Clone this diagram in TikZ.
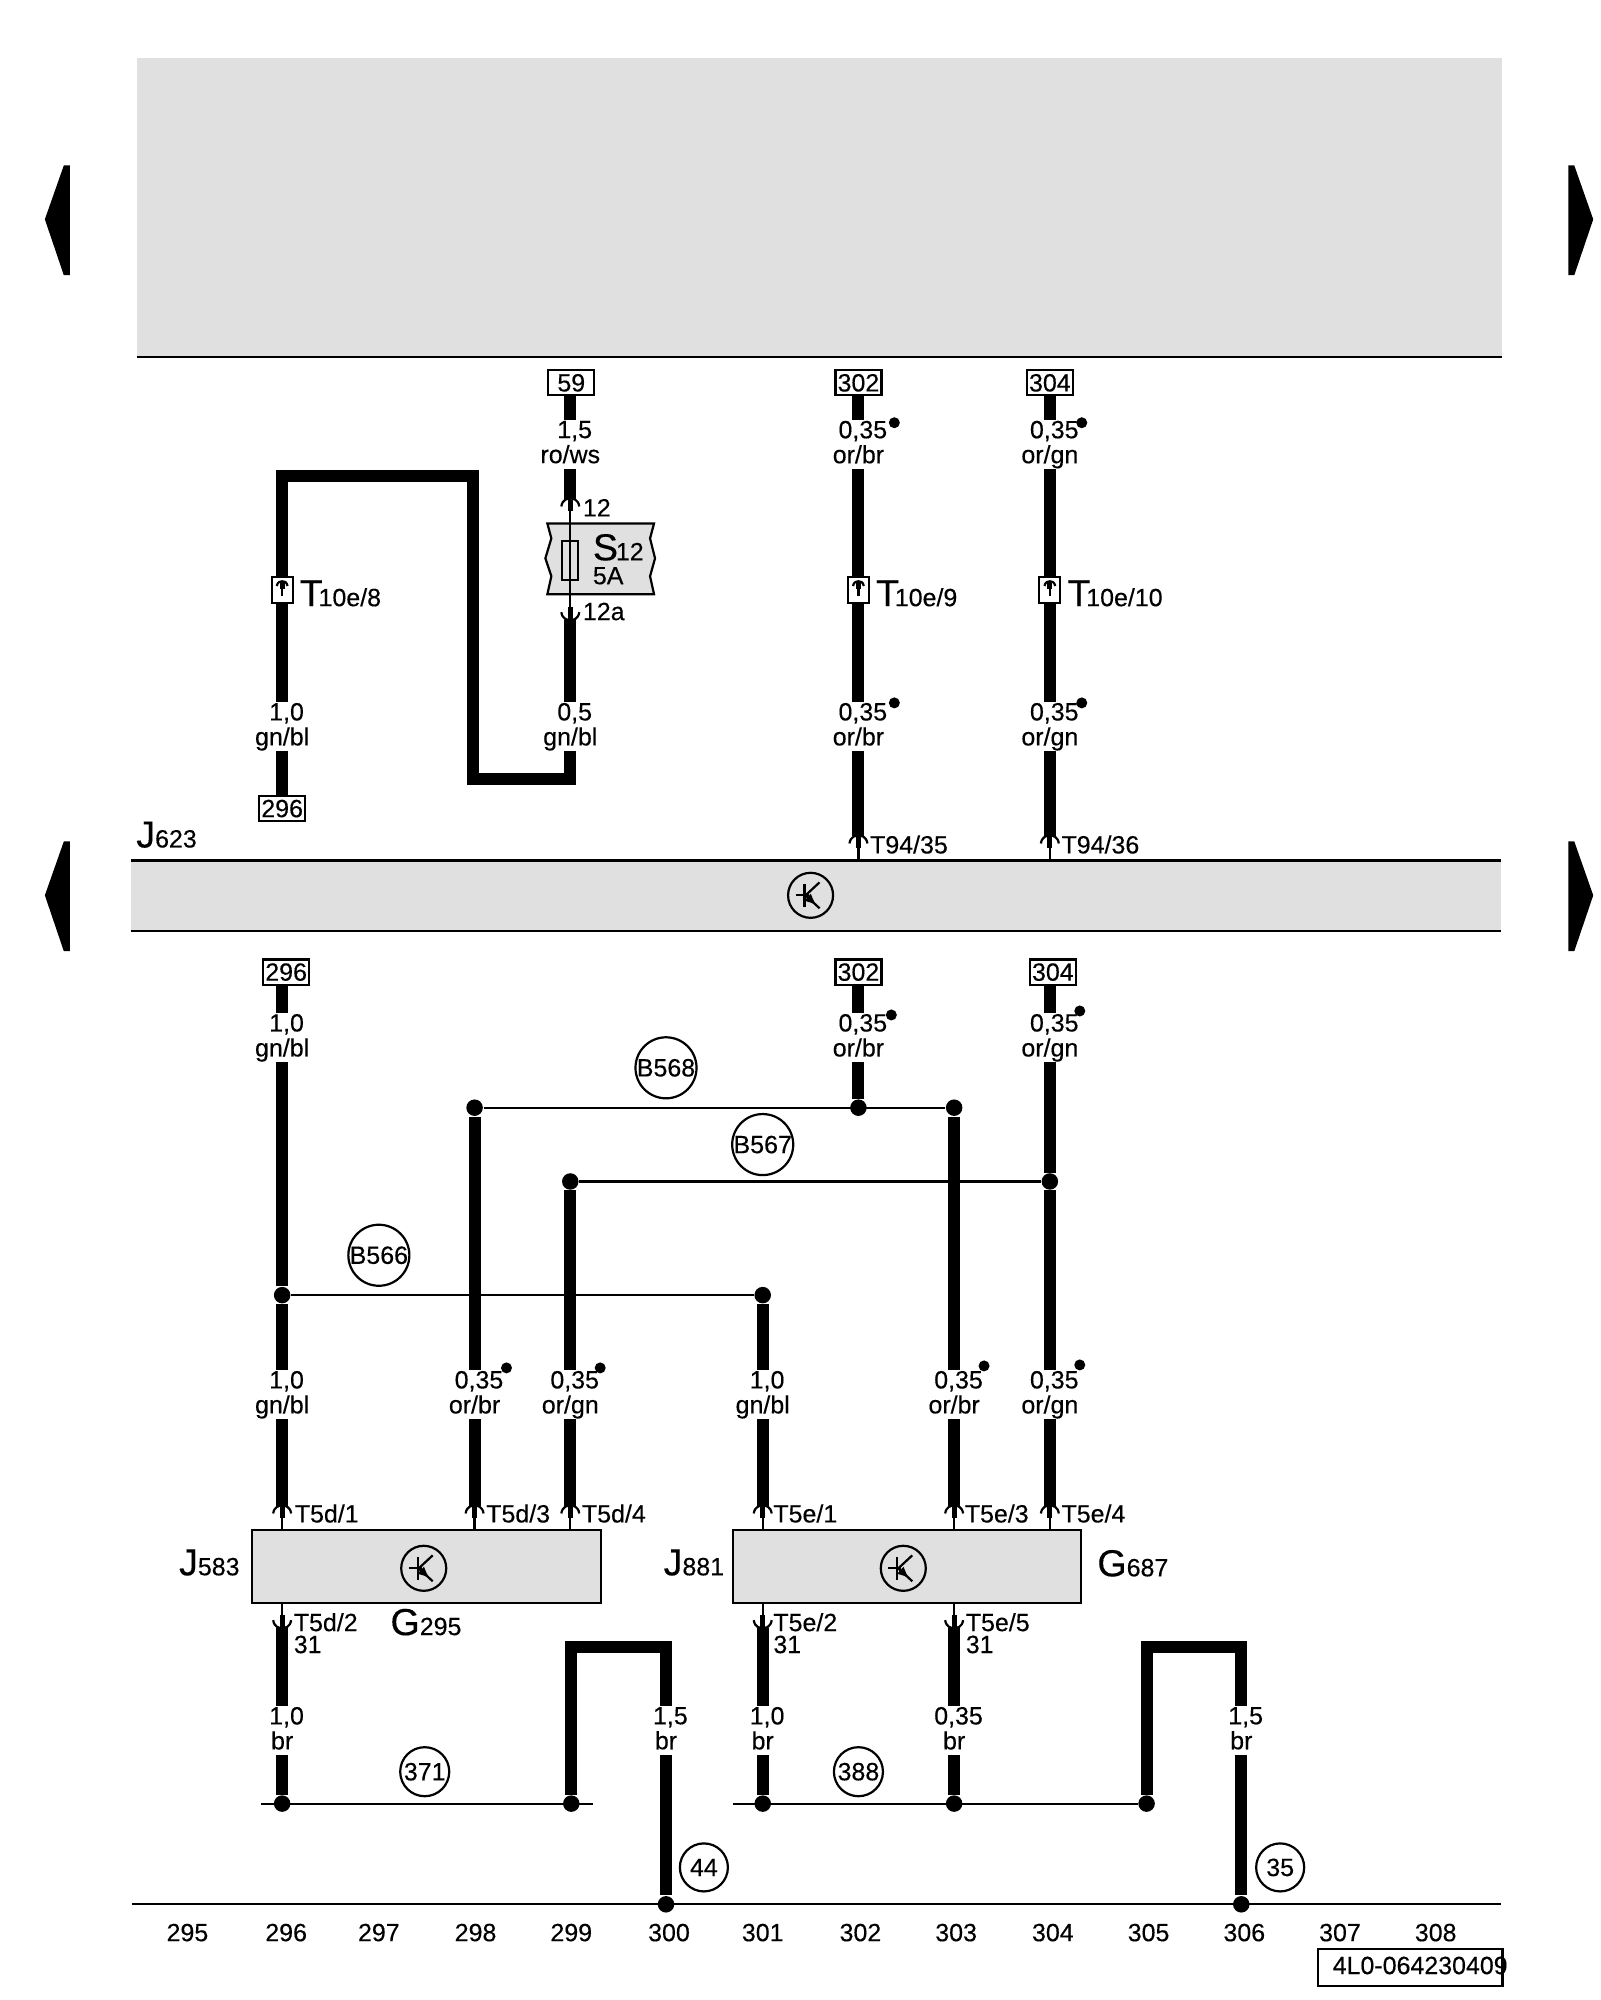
\documentclass[tikz,border=0pt]{standalone}
\usepackage{fontspec}
\setmainfont{Liberation Sans}[FakeBold=0.3]
\usetikzlibrary{arrows.meta}
\definecolor{panel}{HTML}{E0E0E0}
\newcommand{\bigT}[1]{{\fontsize{10.7}{11}\selectfont #1}}
\tikzset{
  small/.style={font=\fontsize{7.1}{7.1}\selectfont},
  wire/.style={line width=0.12cm},
  thinline/.style={line width=0.022cm},
  stem/.style={line width=0.05cm},
  wlab/.style={small, inner sep=0pt, align=center, execute at begin node={\rule{0pt}{7.3pt}}, execute at end node={\rule[-1.5pt]{0pt}{1.5pt}}},
  txt/.style={small, inner sep=0pt, anchor=base west},
  tag/.style={small, draw, thinline, fill=white, inner sep=0pt, minimum width=0.46cm, minimum height=0.25cm},
  conn/.style={draw, thinline, fill=white, inner sep=0pt, minimum width=0.21cm, minimum height=0.26cm},
  unit/.style={draw, thinline, fill=panel, inner sep=0pt, minimum height=0.73cm},
  ring/.style={small, draw, thinline, circle, fill=white, inner sep=0pt},
  spot/.style={circle, fill, inner sep=0pt, minimum size=0.11cm},
  joint/.style={circle, fill, inner sep=0pt, minimum size=0.165cm},
  sens/.style={draw, thinline, circle, inner sep=0pt, minimum size=0.45cm},
  pin/.pic={
    \draw[thinline] (-9,8) .. controls (-8,1) and (-3,0) .. (0,0) .. controls (3,0) and (8,1) .. (9,8);
    \draw[stem] (0,1) -- (0,13);
    \draw[thinline] (0,13) -- (0,25);
  },
  sensor/.pic={
    \draw[thinline] (-15,0) -- (-2,0);
    \draw[thinline] (-6,-11) -- (-6,12);
    \draw[thinline] (-5,0) -- (9,-13);
    \draw[thinline] (-5,0) -- (9,13);
    \draw[thinline, -{Latex[length=0.12cm,width=0.1cm]}] (-4,1) -- (6,10);
  }
}
\begin{document}
\begin{tikzpicture}[x=0.00997cm,y=-0.00997cm]
\useasboundingbox (0,0) rectangle (1604.8,2006);

% page frame
\fill[panel] (137,58) rectangle (1506,358);
\coordinate (TL) at (137,358);
\coordinate (TR) at (1506,358);
\draw[thinline] (TL) -- (TR);
\fill (45,220) -- (64,166) -- (70,166) -- (70,276) -- (64,276) -- cycle;
\fill (45,898) -- (64,844) -- (70,844) -- (70,954) -- (64,954) -- cycle;
\fill (1598,220) -- (1579,166) -- (1573,166) -- (1573,276) -- (1579,276) -- cycle;
\fill (1598,898) -- (1579,844) -- (1573,844) -- (1573,954) -- (1579,954) -- cycle;

% control unit band
\fill[panel] (131,863) rectangle (1505,934);
\coordinate (BL0) at (131,863);
\coordinate (BR0) at (1505,863);
\coordinate (BL1) at (131,934);
\coordinate (BR1) at (1505,934);
\draw[thinline] (BL0) -- (BR0);
\draw[thinline] (BL1) -- (BR1);
\node[sens] (S623) at (813,898) {};
\path (S623) pic {sensor};
\node[txt] (J623) at (136,850) {\bigT{J}623};

% fuse
\draw[thinline, fill=panel] (549,525) -- (553,540) -- (547,560) -- (553,578) -- (549,596) -- (656,596) -- (652,578) -- (657,560) -- (652,540) -- (656,525) -- cycle;
\node[draw, thinline, inner sep=0pt, minimum width=0.16cm, minimum height=0.39cm] (F12) at (572,562) {};
\node[txt] (S12) at (594,562) {\bigT{S}\kern-0.6pt 12};
\node[txt] (A5) at (594,586) {5A};
\node[txt] (N12) at (584,518) {12};
\node[txt] (N12a) at (584,622) {12a};

% upper half
\node[tag] (B59) at (573,384) {59};
\node[tag] (B302) at (861,384) {302};
\node[tag] (B304) at (1053,384) {304};
\node[tag] (B296) at (283,811) {296};
\node[wlab] (L59) at (572,446) {\hspace*{2.5pt}1,5\\ro/ws};
\node[wlab] (L05) at (572,729) {\hspace*{2.5pt}0,5\\gn/bl};
\node[wlab] (L296) at (283,729) {\hspace*{2.5pt}1,0\\gn/bl};
\node[wlab] (L302) at (861,446) {\hspace*{2.5pt}0,35\\or/br};
\node[wlab] (L304) at (1053,446) {\hspace*{2.5pt}0,35\\or/gn};
\node[wlab] (L302a) at (861,729) {\hspace*{2.5pt}0,35\\or/br};
\node[wlab] (L304a) at (1053,729) {\hspace*{2.5pt}0,35\\or/gn};
\node[conn] (C8) at (283,592) {};
\node[conn] (C9) at (861,592) {};
\node[conn] (C10) at (1053,592) {};
\node[spot] (D1) at (897,424) {};
\node[spot] (D2) at (1085,424) {};
\node[spot] (D3) at (897,705) {};
\node[spot] (D4) at (1085,705) {};
\node[txt] (T8) at (300,608) {\bigT{T}\kern-1.2pt 10e/8};
\node[txt] (T9) at (878,608) {\bigT{T}\kern-1.2pt 10e/9};
\node[txt] (T10) at (1070,608) {\bigT{T}\kern-1.2pt 10e/10};
\node[txt] (T35) at (872,856) {T94/35};
\node[txt] (T36) at (1064,856) {T94/36};

\coordinate (P12) at (572,500);
\coordinate (P12a) at (572,622);
\coordinate (P35) at (861,838);
\coordinate (P36) at (1053,838);
\coordinate (K0) at (572,781);
\coordinate (K1) at (474,781);
\coordinate (K2) at (474,477);
\coordinate (K3) at (283,477);

\draw[wire] (B59.south -| L59.north) -- (L59);
\draw[wire] (L59) -- (P12);
\draw[wire] (P12a) -- (L05);
\draw[wire] (L05) -- (K0) -- (K1) -- (K2) -- (K3) -- (C8);
\draw[wire] (C8) -- (L296);
\draw[wire] (L296) -- (B296);
\draw[wire] (B302) -- (L302);
\draw[wire] (L302) -- (C9);
\draw[wire] (C9) -- (L302a);
\draw[wire] (L302a) -- (P35);
\draw[wire] (B304) -- (L304);
\draw[wire] (L304) -- (C10);
\draw[wire] (C10) -- (L304a);
\draw[wire] (L304a) -- (P36);
\draw[thinline] (P12) -- (P12a);
\path (P12) pic {pin};
\path (P12a) pic[yscale=-1] {pin};
\path (P35) pic {pin};
\path (P36) pic {pin};
\path (283,583) pic[scale=0.6] {pin};
\path (861,583) pic[scale=0.6] {pin};
\path (1053,583) pic[scale=0.6] {pin};

% lower half
\node[tag] (B296a) at (287,975) {296};
\node[tag] (B302a) at (861,975) {302};
\node[tag] (B304a) at (1056,975) {304};
\node[wlab] (L1) at (283,1041) {\hspace*{2.5pt}1,0\\gn/bl};
\node[wlab] (L2) at (861,1041) {\hspace*{2.5pt}0,35\\or/br};
\node[wlab] (L3) at (1053,1041) {\hspace*{2.5pt}0,35\\or/gn};
\node[spot] (D5) at (894,1018) {};
\node[spot] (D6) at (1083,1014) {};
\node[joint] (J1) at (476,1111) {};
\node[joint] (J2) at (861,1111) {};
\node[joint] (J3) at (957,1111) {};
\node[joint] (J4) at (572,1185) {};
\node[joint] (J5) at (1053,1185) {};
\node[joint] (J6) at (283,1299) {};
\node[joint] (J7) at (765,1299) {};
\node[wlab] (L4) at (283,1399) {\hspace*{2.5pt}1,0\\gn/bl};
\node[wlab] (L5) at (476,1399) {\hspace*{2.5pt}0,35\\or/br};
\node[wlab] (L6) at (572,1399) {\hspace*{2.5pt}0,35\\or/gn};
\node[wlab] (L7) at (765,1399) {\hspace*{2.5pt}1,0\\gn/bl};
\node[wlab] (L8) at (957,1399) {\hspace*{2.5pt}0,35\\or/br};
\node[wlab] (L9) at (1053,1399) {\hspace*{2.5pt}0,35\\or/gn};
\node[spot] (D7) at (508,1372) {};
\node[spot] (D8) at (602,1372) {};
\node[spot] (D9) at (987,1370) {};
\node[spot] (D10) at (1083,1369) {};

\coordinate (Q1) at (283,1510);
\coordinate (Q2) at (476,1510);
\coordinate (Q3) at (572,1510);
\coordinate (Q4) at (765,1510);
\coordinate (Q5) at (957,1510);
\coordinate (Q6) at (1053,1510);
\coordinate (Q7) at (283,1633);
\coordinate (Q8) at (765,1633);
\coordinate (Q9) at (957,1633);

\draw[wire] (L1.north) -- (L1.north |- B296a.south);
\draw[wire] (L1) -- (J6);
\draw[wire] (J6) -- (L4);
\draw[wire] (L4) -- (Q1);
\draw[wire] (B302a) -- (L2);
\draw[wire] (L2) -- (J2);
\draw[wire] (L3.north) -- (L3.north |- B304a.south);
\draw[wire] (L3) -- (J5);
\draw[wire] (J5) -- (L9);
\draw[wire] (L9) -- (Q6);
\draw[wire] (J1) -- (L5);
\draw[wire] (L5) -- (Q2);
\draw[wire] (J4) -- (L6);
\draw[wire] (L6) -- (Q3);
\draw[wire] (J7) -- (L7);
\draw[wire] (L7) -- (Q4);
\draw[wire] (J3) -- (L8);
\draw[wire] (L8) -- (Q5);
\draw[thinline] (J1) -- (J3);
\draw[thinline] (J4) -- (J5);
\draw[thinline] (J6) -- (J7);
\node[ring, minimum size=0.61cm] (B568) at (668,1071) {B568};
\node[ring, minimum size=0.61cm] (B567) at (765,1148) {B567};
\node[ring, minimum size=0.61cm] (B566) at (380,1259) {B566};

% modules
\node[unit, minimum width=3.49cm] (M583) at (427.5,1571) {};
\node[unit, minimum width=3.48cm] (M881) at (909.5,1571) {};
\node[sens] (S583) at (425,1573) {};
\node[sens] (S881) at (906,1573) {};
\path (S583) pic {sensor};
\path (S881) pic {sensor};
\path (Q1) pic {pin};
\path (Q2) pic {pin};
\path (Q3) pic {pin};
\path (Q4) pic {pin};
\path (Q5) pic {pin};
\path (Q6) pic {pin};
\path (Q7) pic[yscale=-1] {pin};
\path (Q8) pic[yscale=-1] {pin};
\path (Q9) pic[yscale=-1] {pin};
\node[txt] (T1) at (295,1527) {T5d/1};
\node[txt] (T3) at (487,1527) {T5d/3};
\node[txt] (T4) at (583,1527) {T5d/4};
\node[txt] (T5) at (775,1527) {T5e/1};
\node[txt] (T6) at (967,1527) {T5e/3};
\node[txt] (T7) at (1064,1527) {T5e/4};
\node[txt, anchor=base east] (J583) at (241,1580) {\bigT{J}583};
\node[txt, anchor=base east] (J881) at (727,1580) {\bigT{J}881};
\node[txt] (G687) at (1100,1581) {\bigT{G}687};
\node[txt] (G295) at (391,1640) {\bigT{G}295};
\node[txt] (T2) at (294,1636) {T5d/2};
\node[txt] (N31a) at (294,1658) {31};
\node[txt] (T5e2) at (775,1636) {T5e/2};
\node[txt] (N31b) at (775,1658) {31};
\node[txt] (T5e5) at (968,1636) {T5e/5};
\node[txt] (N31c) at (968,1658) {31};

% ground side
\node[wlab] (L10) at (283,1736) {\hspace*{2.5pt}1,0\\br};
\node[wlab] (L11) at (668,1736) {\hspace*{2.5pt}1,5\\br};
\node[wlab] (L12) at (765,1736) {\hspace*{2.5pt}1,0\\br};
\node[wlab] (L13) at (957,1736) {\hspace*{2.5pt}0,35\\br};
\node[wlab] (L14) at (1245,1736) {\hspace*{2.5pt}1,5\\br};
\node[joint] (G1) at (283,1809) {};
\node[joint] (G2) at (573,1809) {};
\node[joint] (G3) at (765,1809) {};
\node[joint] (G4) at (957,1809) {};
\node[joint] (G5) at (1150,1809) {};
\node[joint] (G6) at (668,1910) {};
\node[joint] (G7) at (1245,1910) {};
\coordinate (E1) at (262,1809);
\coordinate (E2) at (595,1809);
\coordinate (E3) at (735,1809);
\coordinate (U1) at (573,1652);
\coordinate (U2) at (668,1652);
\coordinate (U3) at (1150,1652);
\coordinate (U4) at (1245,1652);
\coordinate (FL) at (132,1910);
\coordinate (FR) at (1505,1910);

\draw[wire] (Q7) -- (L10);
\draw[wire] (L10) -- (G1);
\draw[wire] (Q8) -- (L12);
\draw[wire] (L12) -- (G3);
\draw[wire] (Q9) -- (L13);
\draw[wire] (L13) -- (G4);
\draw[wire] (G2) -- (U1) -- (U2) -- (L11);
\draw[wire] (L11) -- (G6);
\draw[wire] (G5) -- (U3) -- (U4) -- (L14);
\draw[wire] (L14) -- (G7);
\draw[thinline] (E1) -- (E2);
\draw[thinline] (E3) -- (G5);
\draw[thinline] (FL) -- (FR);
\node[ring, minimum size=0.49cm] (R371) at (426,1777) {371};
\node[ring, minimum size=0.49cm] (R388) at (861,1777) {388};
\node[ring, minimum size=0.48cm] (R44) at (706,1873) {44};
\node[ring, minimum size=0.48cm] (R35) at (1284,1873) {35};

% column numbers
\node[small, inner sep=0pt, anchor=base] (N295) at (188,1947) {295};
\node[small, inner sep=0pt, anchor=base] (N296) at (287,1947) {296};
\node[small, inner sep=0pt, anchor=base] (N297) at (380,1947) {297};
\node[small, inner sep=0pt, anchor=base] (N298) at (477,1947) {298};
\node[small, inner sep=0pt, anchor=base] (N299) at (573,1947) {299};
\node[small, inner sep=0pt, anchor=base] (N300) at (671,1947) {300};
\node[small, inner sep=0pt, anchor=base] (N301) at (765,1947) {301};
\node[small, inner sep=0pt, anchor=base] (N302) at (863,1947) {302};
\node[small, inner sep=0pt, anchor=base] (N303) at (959,1947) {303};
\node[small, inner sep=0pt, anchor=base] (N304) at (1056,1947) {304};
\node[small, inner sep=0pt, anchor=base] (N305) at (1152,1947) {305};
\node[small, inner sep=0pt, anchor=base] (N306) at (1248,1947) {306};
\node[small, inner sep=0pt, anchor=base] (N307) at (1344,1947) {307};
\node[small, inner sep=0pt, anchor=base] (N308) at (1440,1947) {308};
\draw[thinline] (1322,1955) rectangle (1507,1992);
\node[txt] (REF) at (1336,1980) {4L0-064230409};
\end{tikzpicture}
\end{document}
